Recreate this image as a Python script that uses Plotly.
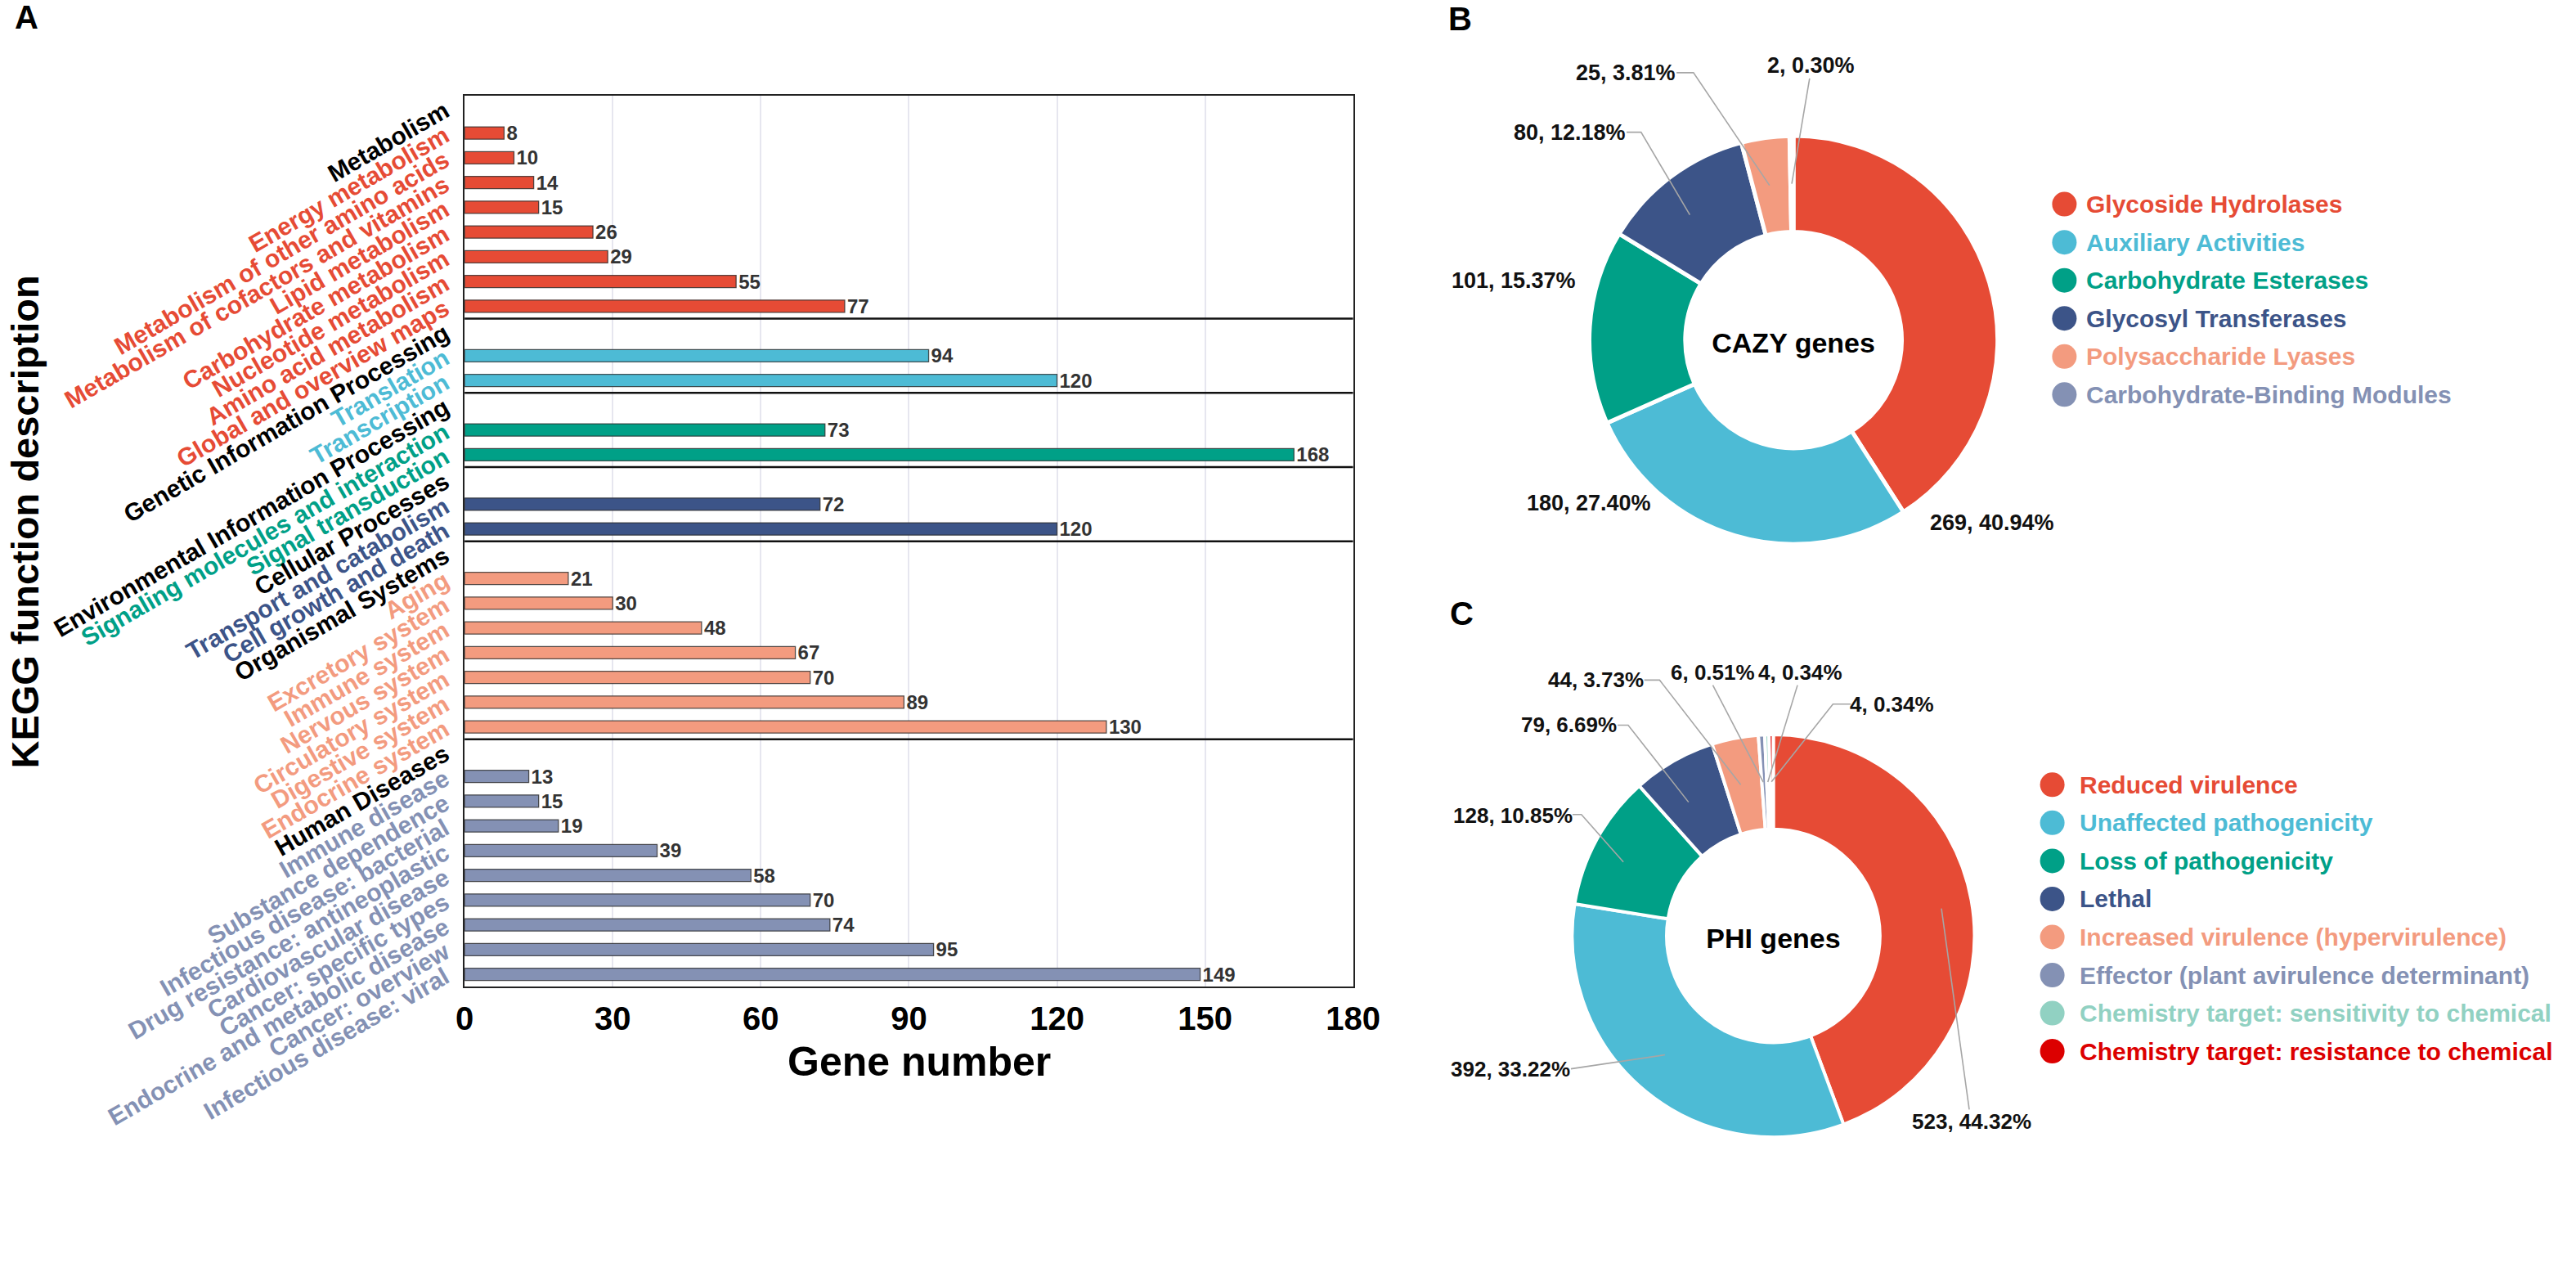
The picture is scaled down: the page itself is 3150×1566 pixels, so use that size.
import math
import plotly.graph_objects as go

W, H = 3150, 1566
FONT = "Liberation Sans, Arial, sans-serif"

# ---------------- data ----------------
kegg_groups = ["Metabolism", "Genetic Information Processing",
               "Environmental Information Processing", "Cellular Processes",
               "Organismal Systems", "Human Diseases"]
metabolism_terms = ["Energy metabolism", "Metabolism of other amino acids",
                    "Metabolism of cofactors and vitamins", "Lipid metabolism",
                    "Carbohydrate metabolism", "Nucleotide metabolism",
                    "Amino acid metabolism", "Global and overview maps"]
metabolism_genes = [8, 10, 14, 15, 26, 29, 55, 77]
genetic_terms = ["Translation", "Transcription"]
genetic_genes = [94, 120]
environmental_terms = ["Signaling molecules and interaction", "Signal transduction"]
environmental_genes = [73, 168]
cellular_terms = ["Transport and catabolism", "Cell growth and death"]
cellular_genes = [72, 120]
organismal_terms = ["Aging", "Excretory system", "Immune system", "Nervous system",
                    "Circulatory system", "Digestive system", "Endocrine system"]
organismal_genes = [21, 30, 48, 67, 70, 89, 130]
disease_terms = ["Immune disease", "Substance dependence", "Infectious disease: bacterial",
                 "Drug resistance: antineoplastic", "Cardiovascular disease",
                 "Cancer: specific types", "Endocrine and metabolic disease",
                 "Cancer: overview", "Infectious disease: viral"]
disease_genes = [13, 15, 19, 39, 58, 70, 74, 95, 149]
x_ticks = [0, 30, 60, 90, 120, 150, 180]

cazy_labels = ["Glycoside Hydrolases", "Auxiliary Activities", "Carbohydrate Esterases",
               "Glycosyl Transferases", "Polysaccharide Lyases", "Carbohydrate-Binding Modules"]
cazy_counts = [269, 180, 101, 80, 25, 2]

phi_labels = ["Reduced virulence", "Unaffected pathogenicity", "Loss of pathogenicity", "Lethal",
              "Increased virulence (hypervirulence)", "Effector (plant avirulence determinant)",
              "Chemistry target: sensitivity to chemical", "Chemistry target: resistance to chemical"]
phi_counts = [523, 392, 128, 79, 44, 6, 4, 4]

# ---------------- styles ----------------
NPG = ["#E64B35", "#4DBBD5", "#00A087", "#3C5488", "#F39B7F", "#8491B4", "#91D1C2", "#DC0000"]

# bar plot area (pixels)
BX0, BX1, BY0, BY1 = 565, 1667, 132, 1358
# pie geometry (pixels)
PIE_B = dict(cx=2213, cy=468, r=281, hole=0.53)
PIE_C = dict(cx=2188, cy=1288, r=277, hole=0.53)

fig = go.Figure()

# ---------------- panel A: bars ----------------
groups = [
    (kegg_groups[0], metabolism_terms, metabolism_genes),
    (kegg_groups[1], genetic_terms, genetic_genes),
    (kegg_groups[2], environmental_terms, environmental_genes),
    (kegg_groups[3], cellular_terms, cellular_genes),
    (kegg_groups[4], organismal_terms, organismal_genes),
    (kegg_groups[5], disease_terms, disease_genes),
]
tickvals, ticktext, bounds = [], [], []
row = 0
for gi, (gname, terms, genes) in enumerate(groups):
    color = NPG[gi]
    tickvals.append(row)
    ticktext.append(f"<span style='color:#000000'>{gname}</span>")
    row += 1
    ys = []
    for t in terms:
        tickvals.append(row)
        ticktext.append(f"<span style='color:{color}'>{t}</span>")
        ys.append(row)
        row += 1
    fig.add_trace(go.Bar(
        x=genes, y=ys, orientation="h", width=0.5,
        marker=dict(color=color, line=dict(color="rgba(45,45,45,0.8)", width=1.3)),
        text=genes, texttemplate="%{x}", textposition="outside", constraintext="none",
        outsidetextfont=dict(family=FONT, size=24, color="#333333", weight="bold"),
        cliponaxis=False, showlegend=False, xaxis="x", yaxis="y",
    ))
    bounds.append(row - 0.5)
n_rows = row

shapes = []
for b in bounds[:-1]:
    shapes.append(dict(type="line", xref="x", yref="y", x0=0, x1=180, y0=b, y1=b,
                       line=dict(color="#111111", width=2.5), layer="above"))

# ---------------- overlay pixel axes (legends, labels) ----------------
ann = []


def add_text(x, y, text, size, color="#111111", angle=0, xanchor="center", yanchor="middle"):
    ann.append(dict(x=x, y=y, xref="x2", yref="y2", text=text, showarrow=False,
                    textangle=angle, xanchor=xanchor, yanchor=yanchor,
                    font=dict(family=FONT, size=size, color=color, weight="bold")))


add_text(22, 24, "A", 40, "#000000")
add_text(1800, 26, "B", 40, "#000000")
add_text(1802, 844, "C", 40, "#000000")
add_text(20, 718, "KEGG function description", 47, "#000000", angle=-90)
add_text(1129, 1461, "Gene number", 50, "#000000")


def pie_trace(labels, values, colors, geo, title, lw):
    cx, cy, r = geo["cx"], geo["cy"], geo["r"]
    return go.Pie(
        labels=labels, values=values, sort=False, direction="clockwise", rotation=0,
        hole=geo["hole"], textinfo="none", hoverinfo="label+value+percent", showlegend=False,
        marker=dict(colors=colors, line=dict(color="white", width=lw)),
        domain=dict(x=[(cx - r) / W, (cx + r) / W], y=[1 - (cy + r) / H, 1 - (cy - r) / H]),
        title=dict(text=title, position="middle center",
                   font=dict(family=FONT, size=34, color="#000000", weight="bold")),
    )


fig.add_trace(pie_trace(cazy_labels, cazy_counts, NPG[:6], PIE_B, "CAZY genes", 5))
fig.add_trace(pie_trace(phi_labels, phi_counts, NPG[:8], PIE_C, "PHI genes", 4))


def pie_labels(values, geo, positions, leaders, size):
    total = sum(values)
    cx, cy, r = geo["cx"], geo["cy"], geo["r"]
    rm = r * (1 + geo["hole"]) / 2
    cum = 0
    for v, pos, lead in zip(values, positions, leaders):
        mid = (cum + v / 2) / total * 2 * math.pi
        cum += v
        add_text(pos[0], pos[1], f"{v}, {v / total * 100:.2f}%", size)
        if lead:
            pts = list(lead) + [(cx + rm * math.sin(mid), cy - rm * math.cos(mid))]
            path = "M " + " L ".join(f"{x:.1f},{y:.1f}" for x, y in pts)
            shapes.append(dict(type="path", xref="x2", yref="y2", path=path,
                               line=dict(color="#A6A6A6", width=1.6), layer="above"))


cazy_label_pos = [(2459, 719), (1959, 692), (1866, 386), (1936, 182), (2005, 100), (2235, 90)]
cazy_leaders = [None, None, None, [(2006, 182), (2024, 182)], [(2068, 100), (2089, 100)],
                [(2233, 108)]]
pie_labels(cazy_counts, PIE_B, cazy_label_pos, cazy_leaders, 27)

phi_label_pos = [(2434, 1544), (1862, 1471), (1865, 1122), (1935, 998), (1968, 936),
                 (2113, 925), (2222, 925), (2335, 969)]
phi_leaders = [[(2431, 1527)], [(1937, 1471)], [(1939, 1121), (1950, 1121)],
               [(1995, 998), (2008, 998)], [(2028, 936), (2047, 936)], [(2113, 943)],
               [(2218, 943)], [(2284, 969), (2262, 969)]]
pie_labels(phi_counts, PIE_C, phi_label_pos, phi_leaders, 26)


# legends
def legend(labels, colors, mx, tx, y0, dy):
    ys = [y0 + i * dy for i in range(len(labels))]
    fig.add_trace(go.Scatter(x=[mx] * len(labels), y=ys, mode="markers", xaxis="x2", yaxis="y2",
                             marker=dict(size=30, color=colors), showlegend=False,
                             hoverinfo="skip", cliponaxis=False))
    for lab, col, y in zip(labels, colors, ys):
        add_text(tx, y, lab, 30, col, xanchor="left")


legend(cazy_labels, NPG[:6], 2549, 2574, 281, 52.4)
legend(phi_labels, NPG[:8], 2534, 2566, 1080, 52.4)

fig.update_layout(
    width=W, height=H, autosize=False, margin=dict(l=0, r=0, t=0, b=0, pad=0),
    paper_bgcolor="white", plot_bgcolor="rgba(0,0,0,0)",
    font=dict(family=FONT, color="#000000"),
    bargap=0.5,
    xaxis=dict(domain=[BX0 / W, BX1 / W], range=[0, 180], tickvals=x_ticks,
               showgrid=True, gridcolor="#E6E6EF", gridwidth=2, zeroline=False,
               showline=True, linecolor="#222222", linewidth=2, mirror=True, ticks="",
               ticklabelstandoff=3,
               tickfont=dict(family=FONT, size=40, color="#000000", weight="bold"),
               anchor="y", fixedrange=True),
    yaxis=dict(domain=[1 - BY1 / H, 1 - BY0 / H], range=[n_rows - 0.5, -0.5],
               tickvals=tickvals, ticktext=ticktext, tickangle=-30,
               showgrid=False, zeroline=False, showline=True, linecolor="#222222",
               linewidth=2, mirror=True, ticks="", ticklabelstandoff=16,
               tickfont=dict(family=FONT, size=30, color="#000000", weight="bold"),
               anchor="x", fixedrange=True),
    xaxis2=dict(domain=[0, 1], range=[0, W], visible=False, anchor="y2", fixedrange=True),
    yaxis2=dict(domain=[0, 1], range=[H, 0], visible=False, anchor="x2", fixedrange=True),
    shapes=shapes, annotations=ann,
)

fig.write_html("out.html", config={"responsive": False, "displayModeBar": False},
               default_width=f"{W}px", default_height=f"{H}px",
               post_script="document.body.style.margin='0px';document.body.style.overflow='hidden';")
